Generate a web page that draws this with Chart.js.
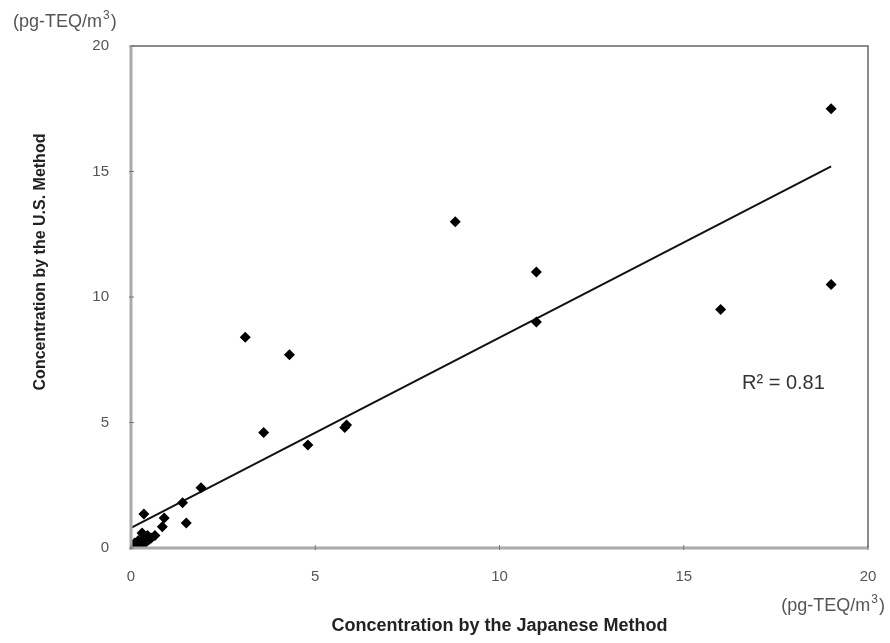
<!DOCTYPE html>
<html>
<head>
<meta charset="utf-8">
<script src="https://cdn.jsdelivr.net/npm/chart.js@4.4.1/dist/chart.umd.min.js"></script>
<style>
  html, body { margin: 0; padding: 0; background: #fff; }
  #wrap { width: 890px; height: 643px; }
</style>
</head>
<body>
<div id="wrap"><canvas id="scatterCanvas" width="890" height="643"></canvas></div>
<script>
// --- data ---
const japanX = [19, 19, 16, 11, 11, 8.8, 3.1, 4.3, 3.6, 4.8, 5.8, 5.85, 1.9, 1.4, 1.5, 0.35,
                0.9, 0.85, 0.65, 0.5, 0.4, 0.3, 0.25, 0.2, 0.15, 0.1, 0.3, 0.45, 0.55, 0.2, 0.1, 0.35];
const usY    = [17.5, 10.5, 9.5, 11, 9, 13, 8.4, 7.7, 4.6, 4.1, 4.8, 4.9, 2.4, 1.8, 1.0, 1.35,
                1.2, 0.85, 0.5, 0.35, 0.45, 0.3, 0.2, 0.15, 0.1, 0.05, 0.6, 0.5, 0.4, 0.3, 0.2, 0.15];
const trendX = [0, 19];
const trendY = [0.8, 15.2];
const tickValues = [0, 5, 10, 15, 20];
const unitMain = '(pg-TEQ/m';
const unitSup = '3';
const r2Label = 'R² = 0.81';
const xTitle = 'Concentration by the Japanese Method';
const yTitle = 'Concentration by the U.S. Method';

const FONT = '"Liberation Sans", Arial, sans-serif';

// draws "(pg-TEQ/m³)" with a small raised 3, anchored at its left edge
function drawUnit(c, x, y) {
  c.font = '18px ' + FONT;
  c.textAlign = 'left';
  c.fillText(unitMain, x, y);
  let w = c.measureText(unitMain).width;
  c.font = '12px ' + FONT;
  c.fillText(unitSup, x + w + 1, y - 6);
  w += c.measureText(unitSup).width + 2;
  c.font = '18px ' + FONT;
  c.fillText(')', x + w, y);
  return w + c.measureText(')').width;
}

// extra text + frame drawn after the chart
const annotations = {
  id: 'annotations',
  afterDraw(chart) {
    const c = chart.ctx;
    const a = chart.chartArea;
    const xs = chart.scales.x, ys = chart.scales.y;
    c.save();
    // frame
    c.strokeStyle = '#666';
    c.lineWidth = 1.5;
    c.beginPath();
    c.moveTo(a.left, a.top); c.lineTo(a.right, a.top); c.lineTo(a.right, a.bottom);
    c.stroke();
    c.strokeStyle = '#aaa';
    c.lineWidth = 3;
    c.beginPath();
    c.moveTo(a.left, a.top); c.lineTo(a.left, a.bottom); c.lineTo(a.right, a.bottom);
    c.stroke();
    // small tick marks crossing the axes
    c.strokeStyle = '#777';
    c.lineWidth = 1;
    tickValues.forEach(v => {
      const px = xs.getPixelForValue(v);
      c.beginPath(); c.moveTo(px, a.bottom - 3); c.lineTo(px, a.bottom + 2); c.stroke();
      const py = ys.getPixelForValue(v);
      c.beginPath(); c.moveTo(a.left - 2, py); c.lineTo(a.left + 3, py); c.stroke();
    });
    // units
    c.fillStyle = '#555';
    c.textBaseline = 'middle';
    drawUnit(c, 13, 22);
    c.globalAlpha = 0;
    const uw = drawUnit(c, 0, -50);
    c.globalAlpha = 1;
    drawUnit(c, 885 - uw, 606);
    // R squared
    c.fillStyle = '#333';
    c.font = '20px ' + FONT;
    c.textAlign = 'left';
    c.fillText(r2Label, 742, 383);
    // y title
    c.fillStyle = '#222';
    c.font = 'bold 16px ' + FONT;
    c.translate(41, 262);
    c.rotate(-Math.PI / 2);
    c.textAlign = 'center';
    c.fillText(yTitle, 0, 0);
    c.restore();
  }
};

const ctx = document.getElementById('scatterCanvas').getContext('2d');
new Chart(ctx, {
  type: 'scatter',
  data: {
    datasets: [
      {
        label: 'samples',
        data: japanX.map((x, i) => ({ x: x, y: usY[i] })),
        pointStyle: 'rectRot',
        pointRadius: 5.5,
        backgroundColor: '#000',
        borderColor: '#000',
        borderWidth: 0
      },
      {
        label: 'trend',
        type: 'line',
        data: trendX.map((x, i) => ({ x: x, y: trendY[i] })),
        borderColor: '#111',
        borderWidth: 2,
        pointRadius: 0,
        fill: false
      }
    ]
  },
  options: {
    responsive: false,
    animation: false,
    layout: { padding: { left: 0, top: 46, right: 22, bottom: 0 } },
    plugins: { legend: { display: false }, tooltip: { enabled: false } },
    scales: {
      x: {
        type: 'linear', min: 0, max: 20,
        afterBuildTicks: s => { s.ticks = tickValues.map(v => ({ value: v })); },
        afterFit: s => { s.height = 95; s.paddingLeft = 0; s.paddingRight = 0; },
        grid: { display: false },
        border: { display: false },
        ticks: { color: '#555', padding: 12, font: { family: FONT, size: 15 } },
        title: { display: true, text: xTitle, color: '#222', font: { family: FONT, size: 18, weight: 'bold' }, padding: { top: 0, bottom: 6 } }
      },
      y: {
        type: 'linear', min: 0, max: 20,
        afterBuildTicks: s => { s.ticks = tickValues.map(v => ({ value: v })); },
        afterFit: s => { s.width = 131; s.paddingTop = 0; s.paddingBottom = 0; },
        grid: { display: false },
        border: { display: false },
        ticks: { color: '#555', padding: 14, font: { family: FONT, size: 15 } }
      }
    }
  },
  plugins: [annotations]
});
</script>
</body>
</html>
